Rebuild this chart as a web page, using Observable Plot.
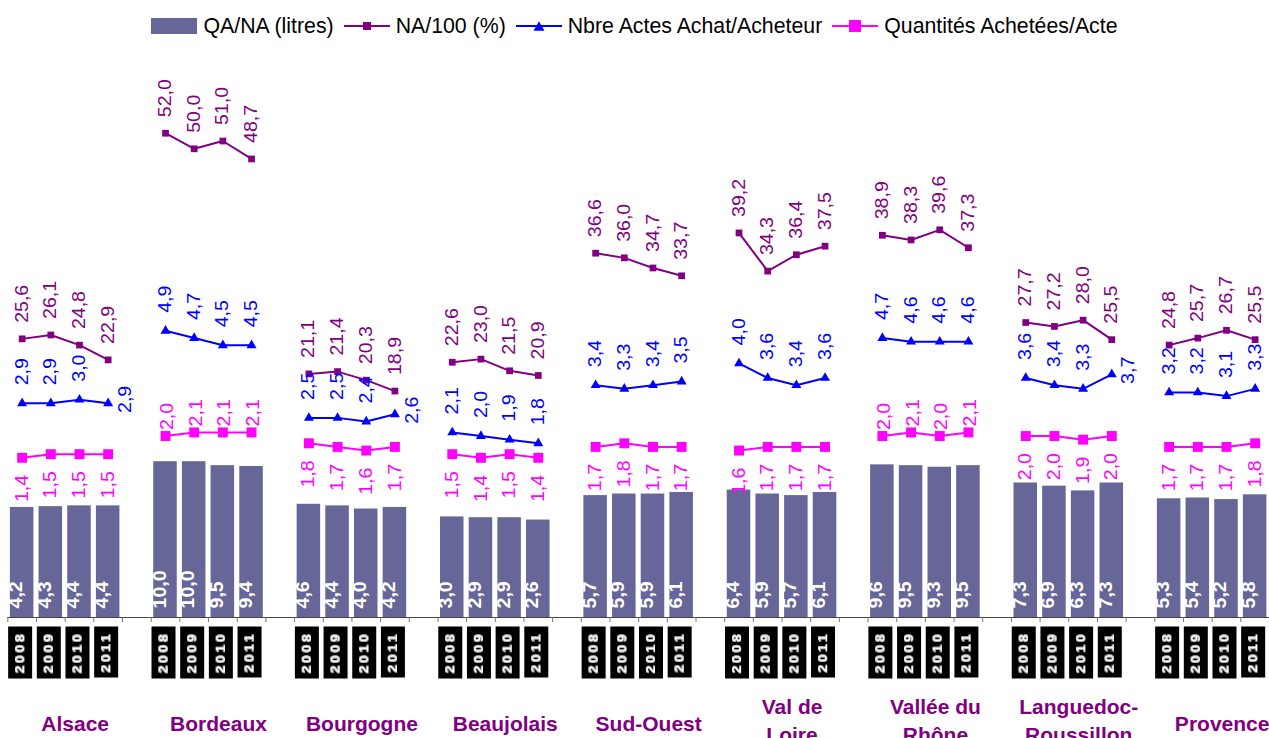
<!DOCTYPE html>
<html><head><meta charset="utf-8">
<script src="https://cdn.jsdelivr.net/npm/d3@7"></script>
<script src="https://cdn.jsdelivr.net/npm/@observablehq/plot@0.6"></script>
<style>
html,body{margin:0;padding:0;background:#fff;overflow:hidden;}
#wrap{position:relative;width:1269px;height:738px;overflow:hidden;font-family:"Liberation Sans",Arial,sans-serif;}
#wrap svg.layer{position:absolute;left:0;top:0;}
#legend{position:absolute;top:14px;left:0;width:1269px;height:24px;display:flex;justify-content:center;align-items:center;font-size:21.3px;color:#000;white-space:nowrap;z-index:5;}
.item{display:flex;align-items:center;margin-right:10px;}
.item:last-child{margin-right:0;}
.sw{margin-right:6px;display:block;}
</style></head><body>
<div id="wrap"><div id="legend"></div></div>
<script>
// ---- data ----
const regions = ["Alsace","Bordeaux","Bourgogne","Beaujolais","Sud-Ouest","Val de Loire","Vallée du Rhône","Languedoc-Roussillon","Provence"];
const regionLabels = ["Alsace","Bordeaux","Bourgogne","Beaujolais","Sud-Ouest","Val de\nLoire","Vallée du\nRhône","Languedoc-\nRoussillon","Provence"];
const years = ["2008","2009","2010","2011"];
// QA/NA (litres)
const qaNa = [
  [4.2,4.3,4.4,4.4],[10.0,10.0,9.5,9.4],[4.6,4.4,4.0,4.2],[3.0,2.9,2.9,2.6],[5.7,5.9,5.9,6.1],
  [6.4,5.9,5.7,6.1],[9.6,9.5,9.3,9.5],[7.3,6.9,6.3,7.3],[5.3,5.4,5.2,5.8]];
// NA/100 (%)
const naPct = [
  [25.6,26.1,24.8,22.9],[52.0,50.0,51.0,48.7],[21.1,21.4,20.3,18.9],[22.6,23.0,21.5,20.9],[36.6,36.0,34.7,33.7],
  [39.2,34.3,36.4,37.5],[38.9,38.3,39.6,37.3],[27.7,27.2,28.0,25.5],[24.8,25.7,26.7,25.5]];
// Nbre Actes Achat/Acheteur
const actes = [
  [2.9,2.9,3.0,2.9],[4.9,4.7,4.5,4.5],[2.5,2.5,2.4,2.6],[2.1,2.0,1.9,1.8],[3.4,3.3,3.4,3.5],
  [4.0,3.6,3.4,3.6],[4.7,4.6,4.6,4.6],[3.6,3.4,3.3,3.7],[3.2,3.2,3.1,3.3]];
// Quantités Achetées/Acte
const qteActe = [
  [1.4,1.5,1.5,1.5],[2.0,2.1,2.1,2.1],[1.8,1.7,1.6,1.7],[1.5,1.4,1.5,1.4],[1.7,1.8,1.7,1.7],
  [1.6,1.7,1.7,1.7],[2.0,2.1,2.0,2.1],[2.0,2.0,1.9,2.0],[1.7,1.7,1.7,1.8]];

// label placement (style config)
const actesRight = new Set(["Alsace|2011","Bourgogne|2011","Languedoc-Roussillon|2011"]);
const qteAbove = new Set(["Bordeaux","Vallée du Rhône"]);

const C_BAR = "#666699", C_NA = "#800080", C_ACT = "#0000FF", C_QTE = "#FF00FF";
const fmt = v => d3.format(".1f")(v).replace(".", ",");

const rows = regions.flatMap((r,i) => years.map((y,j) => ({
  region: r, year: y, key: r + "|" + y,
  qa: qaNa[i][j], na: naPct[i][j], actes: actes[i][j], qte: qteActe[i][j]
})));
const xDomain = regions.flatMap((r,i) => {
  const k = years.map(y => r + "|" + y);
  return i < regions.length - 1 ? [...k, "gap" + i] : k;
});
const regionRows = regions.map((r,i) => ({region: r, label: regionLabels[i]}));

const W = 1269, H = 760, BASE = 617, ML = 7.3, MR = 0;
const step = (W - ML - MR) / xDomain.length;
const common = {
  width: W, height: H, marginLeft: ML, marginRight: MR, marginTop: 0, marginBottom: H - BASE,
  x: {type: "band", domain: xDomain, paddingInner: 0.18, paddingOuter: 0.09, round: false, axis: null},
  style: {background: "transparent", overflow: "visible", fontFamily: "'Liberation Sans', Arial, sans-serif"}
};

const yBar = [-9.76, 68.5];
const yNa = [-10.17, 69.04];
const yAct = [-3, 14];

const wrap = document.getElementById("wrap");
function add(svg){ svg.classList.add("layer"); wrap.appendChild(svg); return svg; }
function stretch(svg, sx){
  svg.querySelectorAll("text").forEach(t => {
    const tr = t.getAttribute("transform") || "";
    if (tr.includes("rotate")) t.setAttribute("transform", tr + ` scale(${sx},1)`);
  });
}

// ---- layer A: bars, axis, labels ----
const A = Plot.plot({...common,
  y: {domain: yBar, axis: null},
  marks: [
    Plot.barY(rows, {x: "key", y1: yBar[0], y2: "qa", fill: C_BAR}),
    Plot.ruleY([yBar[0]], {stroke: "#444", strokeWidth: 1.2}),
    Plot.ruleX(xDomain, {x: d => d, y1: yBar[0], y2: yBar[0], insetBottom: -5, dx: -step/2, stroke: "#777"}),
    Plot.text(rows, {x: "key", text: d => fmt(d.qa), frameAnchor: "bottom", rotate: -90, textAnchor: "start",
      dy: -9, fill: "white", fontWeight: "bold", fontSize: 17.5}),
    Plot.text(rows, {x: "key", text: "year", frameAnchor: "bottom", rotate: -90, textAnchor: "end",
      dy: 14, dx: 2, fill: "white", fontWeight: "bold", fontSize: 12.3}),
    Plot.text(regionRows.filter(d => !d.label.includes("\n")), {x: d => d.region + "|2010", text: "label", frameAnchor: "bottom",
      dx: -step/2 + 10, dy: 107, fill: C_NA, fontWeight: "bold", fontSize: 21, lineAnchor: "middle"}),
    Plot.text(regionRows.filter(d => d.label.includes("\n")), {x: d => d.region + "|2010", text: "label", frameAnchor: "bottom",
      dx: -step/2 + 10, dy: 102, fill: C_NA, fontWeight: "bold", fontSize: 21, lineHeight: 1.33, lineAnchor: "middle"})
  ]
});
add(A);
// year boxes via filter
const defs = d3.select(A).insert("defs", ":first-child");
const f = defs.append("filter").attr("id", "yearbox").attr("x", -0.1).attr("y", -0.32).attr("width", 1.2).attr("height", 1.62);
f.append("feFlood").attr("flood-color", "#000");
f.append("feComposite").attr("in", "SourceGraphic").attr("operator", "over");
A.querySelectorAll("text").forEach(t => {
  if (years.includes(t.textContent)) {
    t.setAttribute("filter", "url(#yearbox)");
    t.style.letterSpacing = "2.5px";
  }
});
stretch(A, 1.12);

// ---- layer B: NA/100 ----
const B = Plot.plot({...common,
  y: {domain: yNa, axis: null},
  marks: [
    Plot.line(rows, {x: "key", y: "na", z: "region", stroke: C_NA, strokeWidth: 2}),
    Plot.dot(rows, {x: "key", y: "na", symbol: "square", r: 3.8, fill: C_NA, stroke: "none"}),
    Plot.text(rows, {x: "key", y: "na", text: d => fmt(d.na), rotate: -90, textAnchor: "start", dy: -16,
      fill: C_NA, fontSize: 17.5})
  ]
});
add(B); stretch(B, 1.12);

// ---- layer C: Actes & Quantités ----
const C = Plot.plot({...common,
  y: {domain: yAct, axis: null},
  marks: [
    Plot.line(rows, {x: "key", y: "qte", z: "region", stroke: C_QTE, strokeWidth: 2}),
    Plot.dot(rows, {x: "key", y: "qte", symbol: "square", r: 5.6, fill: C_QTE, stroke: "none"}),
    Plot.text(rows.filter(d => !qteAbove.has(d.region)), {x: "key", y: "qte", text: d => fmt(d.qte), rotate: -90,
      textAnchor: "end", dy: 17, fill: C_QTE, fontSize: 17.5}),
    Plot.text(rows.filter(d => qteAbove.has(d.region)), {x: "key", y: "qte", text: d => fmt(d.qte), rotate: -90,
      textAnchor: "start", dy: -6, dx: 2, fill: C_QTE, fontSize: 17.5}),
    Plot.line(rows, {x: "key", y: "actes", z: "region", stroke: C_ACT, strokeWidth: 2}),
    Plot.dot(rows, {x: "key", y: "actes", symbol: "triangle", r: 3.7, fill: C_ACT, stroke: "none"}),
    Plot.text(rows.filter(d => !actesRight.has(d.key)), {x: "key", y: "actes", text: d => fmt(d.actes), rotate: -90,
      textAnchor: "start", dy: -18, fill: C_ACT, fontSize: 17.5}),
    Plot.text(rows.filter(d => actesRight.has(d.key)), {x: "key", y: "actes", text: d => fmt(d.actes), rotate: -90,
      textAnchor: "middle", dy: -4, dx: 17, fill: C_ACT, fontSize: 17.5})
  ]
});
add(C); stretch(C, 1.12);

// ---- legend ----
const legend = d3.select("#legend");
const items = [
  {label: "QA/NA (litres)", type: "bar", color: C_BAR},
  {label: "NA/100 (%)", type: "line", color: C_NA, sym: "square", size: 8},
  {label: "Nbre Actes Achat/Acheteur", type: "line", color: C_ACT, sym: "triangle", size: 11},
  {label: "Quantités Achetées/Acte", type: "line", color: C_QTE, sym: "square", size: 12}
];
for (const it of items) {
  const d = legend.append("div").attr("class", "item");
  const s = d.append("svg").attr("class", "sw").attr("width", 46).attr("height", 16);
  if (it.type === "bar") {
    s.append("rect").attr("width", 46).attr("height", 16).attr("fill", it.color);
  } else {
    s.append("line").attr("x1", 0).attr("x2", 46).attr("y1", 8).attr("y2", 8).attr("stroke", it.color).attr("stroke-width", 2);
    if (it.sym === "square") {
      s.append("rect").attr("x", 23 - it.size/2).attr("y", 8 - it.size/2).attr("width", it.size).attr("height", it.size).attr("fill", it.color);
    } else {
      const h = it.size * 0.85;
      s.append("path").attr("d", `M${23 - it.size/2},${8 + h/2}L23,${8 - h/2}L${23 + it.size/2},${8 + h/2}Z`).attr("fill", it.color);
    }
  }
  d.append("span").text(it.label);
}
</script>
</body></html>
